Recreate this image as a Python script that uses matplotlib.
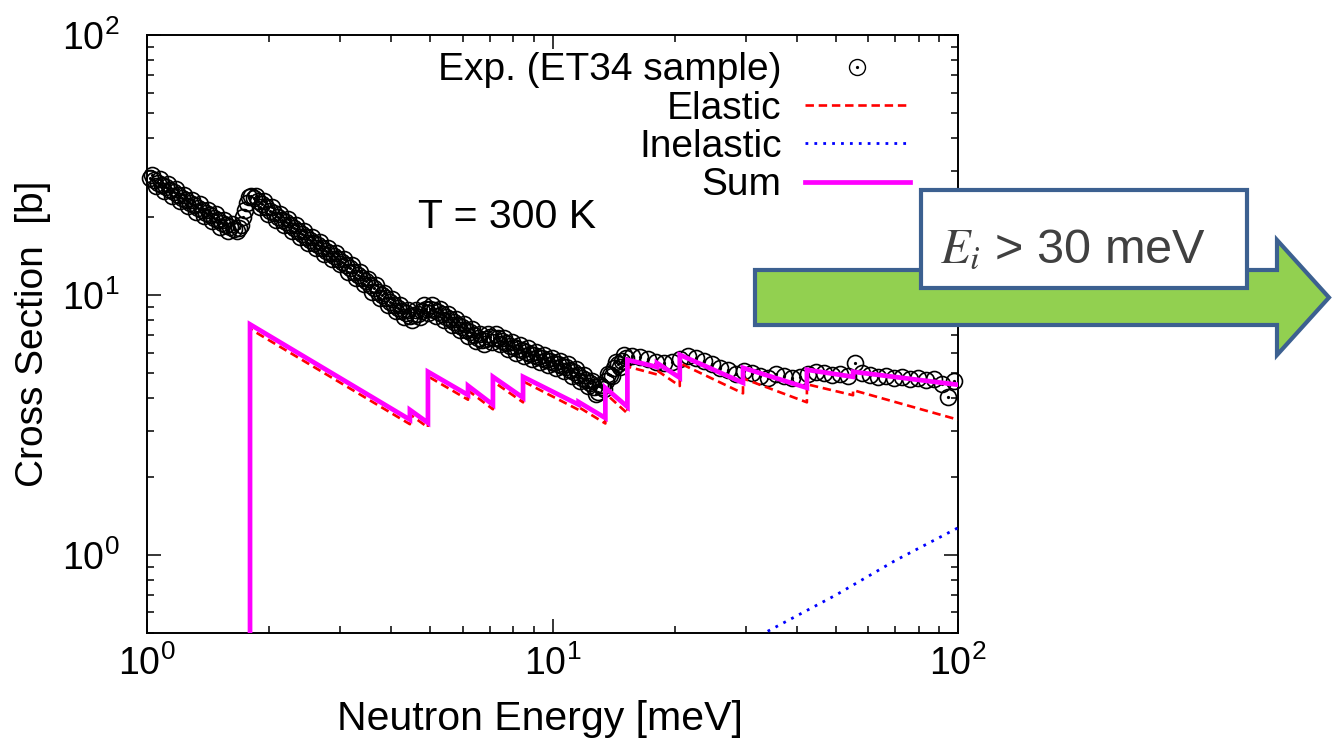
import numpy as np
import matplotlib
matplotlib.use('Agg')
import matplotlib.pyplot as plt
from matplotlib.patches import Polygon, Rectangle
from matplotlib.ticker import LogLocator, NullFormatter, FuncFormatter
from matplotlib.legend_handler import HandlerTuple

# ---------------- data ----------------
exp_energy = [
    1.017, 1.041, 1.064, 1.089, 1.114, 1.139, 1.166, 1.192, 1.220, 1.248,
    1.276, 1.306, 1.336, 1.366, 1.398, 1.430, 1.463, 1.496, 1.531, 1.566,
    1.602, 1.639, 1.667, 1.686, 1.705, 1.725, 1.745, 1.765, 1.784, 1.805,
    1.836, 1.878, 1.921, 1.966, 2.011, 2.057, 2.104, 2.152, 2.202, 2.252,
    2.304, 2.357, 2.411, 2.466, 2.523, 2.581, 2.641, 2.701, 2.764, 2.827,
    2.892, 2.958, 3.027, 3.096, 3.167, 3.240, 3.314, 3.390, 3.468, 3.548,
    3.629, 3.713, 3.798, 3.886, 3.975, 4.066, 4.159, 4.256, 4.352, 4.452,
    4.555, 4.660, 4.767, 4.875, 4.988, 5.103, 5.220, 5.340, 5.463, 5.588,
    5.717, 5.848, 5.982, 6.120, 6.260, 6.404, 6.551, 6.702, 6.855, 7.013,
    7.174, 7.339, 7.507, 7.680, 7.857, 8.037, 8.222, 8.410, 8.603, 8.801,
    9.003, 9.210, 9.421, 9.638, 9.859, 10.09, 10.32, 10.55, 10.80, 11.04,
    11.30, 11.56, 11.82, 12.09, 12.38, 12.66, 12.95, 13.25, 13.55, 13.86,
    14.18, 14.51, 14.84, 15.18,
    15.71, 16.44, 17.20, 17.99, 18.84, 19.71, 20.63, 21.59, 22.59, 23.64,
    24.74, 25.88, 27.09, 28.35, 29.67, 31.05, 32.49, 34.00, 35.58, 37.23,
    38.96, 40.77, 42.67, 44.65, 46.72, 48.90, 51.17, 53.55, 55.72, 57.98,
    60.67, 63.49, 66.44, 69.54, 72.77, 76.14, 79.69, 83.39, 87.27, 91.31,
    94.47, 97.74]
exp_sigma = [
    28.2, 27.6, 27.0, 26.4, 25.9, 25.3, 24.8, 24.2, 23.6, 23.1,
    22.6, 22.1, 21.6, 21.2, 20.7, 20.3, 19.8, 19.4, 18.9, 18.5,
    18.2, 17.9, 17.6, 18.1, 18.6, 19.9, 21.2, 22.6, 23.7, 24.1,
    23.5, 22.9, 22.3, 21.7, 21.1, 20.6, 20.0, 19.5, 19.0, 18.6,
    18.1, 17.6, 17.2, 16.7, 16.3, 15.9, 15.5, 15.2, 14.8, 14.5,
    14.1, 13.8, 13.4, 13.0, 12.7, 12.3, 11.9, 11.6, 11.3, 10.9,
    10.6, 10.3, 10.0, 9.71, 9.42, 9.15, 8.89, 8.66, 8.48, 8.30,
    8.38, 8.45, 8.68, 8.84, 8.84, 8.76, 8.56, 8.43, 8.24, 8.05,
    7.87, 7.69, 7.51, 7.34, 7.17, 7.01, 6.85, 6.69, 6.75, 6.89,
    6.85, 6.80, 6.65, 6.51, 6.37, 6.28, 6.19, 6.11, 6.02, 5.94,
    5.86, 5.78, 5.70, 5.62, 5.55, 5.48, 5.40, 5.33, 5.26, 5.15,
    5.03, 4.91, 4.80, 4.69, 4.59, 4.41, 4.24, 4.42, 4.66, 4.92,
    5.22, 5.43, 5.58, 5.74,
    5.83, 5.78, 5.67, 5.52, 5.48, 5.52, 5.67, 5.83, 5.73, 5.57,
    5.43, 5.24, 5.15, 4.97, 5.10, 5.01, 4.88, 4.80, 4.97, 4.88,
    4.80, 4.84, 4.97, 5.06, 5.01, 4.92, 4.97, 4.88, 5.48, 5.01,
    4.92, 4.84, 4.88, 4.80, 4.84, 4.75, 4.80, 4.71, 4.75, 4.55,
    4.05, 4.67]

# further (interleaved) experimental points of the dense low-energy band
exp_energy_dense = [
    1.029, 1.052, 1.076, 1.101, 1.126, 1.152, 1.179, 1.206, 1.234, 1.262,
    1.291, 1.321, 1.351, 1.382, 1.414, 1.446, 1.479, 1.513, 1.548, 1.584,
    1.620,
    1.857, 1.899, 1.943, 1.988, 2.034, 2.080, 2.128, 2.177, 2.227, 2.278,
    2.330, 2.384, 2.438, 2.494, 2.552, 2.611, 2.671, 2.732, 2.795, 2.859,
    2.925, 2.992, 3.061, 3.131, 3.203, 3.277, 3.352, 3.429, 3.508, 3.588,
    3.671, 3.755, 3.842, 3.930, 4.020, 4.112, 4.207, 4.304, 4.402, 4.503,
    4.607, 4.713, 4.821, 4.931, 5.045, 5.161, 5.280, 5.401, 5.525, 5.652,
    5.782, 5.915, 6.051, 6.190, 6.332, 6.477, 6.626, 6.778, 6.933, 7.093,
    7.256, 7.422, 7.593, 7.768, 7.946, 8.129, 8.315, 8.506, 8.701, 8.901,
    9.106, 9.315, 9.529, 9.748, 9.974, 10.20, 10.43, 10.67, 10.92, 11.17,
    11.43, 11.69, 11.95, 12.23, 12.52, 12.80, 13.10, 13.40, 13.70, 14.02,
    14.34, 14.67, 15.01]
exp_sigma_dense = [
    29.0, 26.2, 27.8, 25.1, 26.6, 24.0, 25.5, 22.9, 24.2, 21.9,
    23.2, 20.9, 22.3, 20.1, 21.3, 19.2, 20.4, 18.3, 19.4, 17.6,
    18.7,
    24.1, 21.7, 22.9, 20.5, 21.7, 19.5, 20.5, 18.5, 19.6, 17.6,
    18.6, 16.7, 17.6, 15.8, 16.7, 15.1, 16.0, 14.4, 15.2, 13.7,
    14.5, 13.1, 13.7, 12.3, 13.0, 11.6, 12.2, 11.0, 11.5, 10.3,
    10.9, 9.74, 10.2, 9.18, 9.65, 8.66, 9.12, 8.23, 8.73, 8.01,
    8.75, 8.22, 9.11, 8.49, 9.15, 8.31, 8.83, 8.00, 8.47, 7.64,
    8.09, 7.30, 7.72, 6.96, 7.37, 6.65, 7.04, 6.45, 7.09, 6.60,
    7.09, 6.45, 6.84, 6.18, 6.57, 5.98, 6.40, 5.82, 6.22, 5.66,
    6.05, 5.51, 5.89, 5.36, 5.73, 5.22, 5.57, 5.08, 5.41, 4.89,
    5.17, 4.66, 4.93, 4.45, 4.68, 4.15, 4.50, 4.36, 4.98, 4.87,
    5.53, 5.28, 5.89]

model_energy = [1.795, 1.795, 4.45, 4.45, 4.93, 4.93, 6.19, 6.19, 7.13, 7.13,
                8.46, 8.46, 11.6, 11.6, 13.5, 13.5, 15.3, 15.3, 18.1, 18.1,
                20.6, 20.6, 29.5, 29.5, 42.4, 42.4, 55.1, 55.1, 100.0]
sum_sigma = [0.3, 7.7, 3.31, 3.61, 3.22, 5.06, 4.12, 4.47, 3.78, 4.84,
             4.02, 4.84, 3.78, 3.87, 3.36, 4.39, 3.71, 5.62, 5.28, 5.47,
             4.80, 5.88, 4.59, 5.24, 4.39, 5.15, 4.84, 5.06, 4.51]
elastic_sigma = [0.3, 7.4, 3.18, 3.47, 3.09, 4.86, 3.95, 4.29, 3.63, 4.65,
                 3.86, 4.65, 3.61, 3.70, 3.20, 4.18, 3.50, 5.30, 4.94, 5.12,
                 4.46, 5.46, 4.18, 4.77, 3.86, 4.53, 4.11, 4.30, 3.31]

inel_energy = [20.0, 33.8, 50.0, 70.0, 100.0]
inel_sigma = [0.32, 0.506, 0.70, 0.95, 1.27]

legend_labels = ['Exp. (ET34 sample)', 'Elastic', 'Inelastic', 'Sum']

# ---------------- style ----------------
plt.rcParams['font.family'] = ['Liberation Sans', 'DejaVu Sans']
plt.rcParams['mathtext.fontset'] = 'custom'
plt.rcParams['mathtext.rm'] = 'Liberation Sans'
plt.rcParams['mathtext.it'] = 'Liberation Sans:italic'
plt.rcParams['mathtext.bf'] = 'Liberation Sans:bold'

W, H = 1333, 753
fig = plt.figure(figsize=(W / 100, H / 100), dpi=100)
ax = fig.add_axes([147 / W, 1 - 633 / H, (958 - 147) / W, (633 - 35) / H])
ax.set_xscale('log')
ax.set_yscale('log')

all_e = list(exp_energy) + list(exp_energy_dense)
all_s = list(exp_sigma) + list(exp_sigma_dense)

MS, MEW = 11.5, 1.2
ax.plot(all_e, all_s, linestyle='none', marker='o', ms=MS,
        mfc='none', mec='black', mew=MEW, clip_on=False, zorder=2)
ax.plot(all_e, all_s, linestyle='none', marker='o', ms=1.3,
        color='black', clip_on=False, zorder=2)
h_exp = ax.plot([], [], linestyle='none', marker='o', ms=MS, mfc='none',
                mec='black', mew=1.0)[0]
h_dot = ax.plot([], [], linestyle='none', marker='o', ms=1.3, color='black')[0]
h_el, = ax.plot(model_energy, elastic_sigma, color='#ff0000', lw=1.9,
                ls=(0, (3.2, 1.8)), zorder=3)
h_in, = ax.plot(inel_energy, inel_sigma, color='#0000ff', lw=2.0,
                ls=(0, (1, 2.2)), zorder=3)
h_sum, = ax.plot(model_energy, sum_sigma, color='#ff00ff', lw=3.4,
                 solid_joinstyle='miter', zorder=4)

ax.set_xlim(1, 100)
ax.set_ylim(0.5, 100)

fmt = FuncFormatter(lambda v, p: r'$10^{%d}$' % int(round(np.log10(v))))
for axis in (ax.xaxis, ax.yaxis):
    axis.set_major_locator(LogLocator(base=10, numticks=10))
    axis.set_minor_locator(LogLocator(base=10, subs=np.arange(2, 10), numticks=20))
    axis.set_major_formatter(fmt)
    axis.set_minor_formatter(NullFormatter())

ax.tick_params(which='both', direction='in', top=True, right=True,
               labelsize=27, width=1.1, colors='black')
ax.tick_params(which='major', length=10)
ax.tick_params(which='minor', length=5)
ax.tick_params(axis='x', which='major', pad=9)
ax.tick_params(axis='y', which='major', pad=20)
for s in ax.spines.values():
    s.set_linewidth(1.4)

ax.set_xlabel('Neutron Energy [meV]', fontsize=29.5)
ax.set_ylabel('Cross Section  [b]', fontsize=28)
ax.xaxis.set_label_coords(0.485, -0.112)
ax.yaxis.set_label_coords(-0.118, 0.5)

ax.text(0.334, 0.696, 'T = 300 K', transform=ax.transAxes, fontsize=29.5,
        ha='left', va='center')

leg = ax.legend([(h_exp, h_dot), h_el, h_in, h_sum], legend_labels,
                handler_map={tuple: HandlerTuple(ndivide=1)},
                loc='upper right', bbox_to_anchor=(0.9408, 0.971),
                frameon=False, markerfirst=False, fontsize=28,
                handlelength=2.7, handletextpad=0.6, labelspacing=0.06,
                borderpad=0, borderaxespad=0)
for col in leg._legend_handle_box.get_children():
    col.align = 'right'

# ---------------- arrow annotation ----------------
def f(x, y):
    return (x / W, 1 - y / H)

edge = '#3C6090'
arrow_pts = [f(755, 270), f(1277, 270), f(1277, 240), f(1329, 297.5),
             f(1277, 355), f(1277, 325), f(755, 325)]
fig.add_artist(Polygon(arrow_pts, closed=True, transform=fig.transFigure,
                       facecolor='#92D050', edgecolor=edge, lw=3.0,
                       joinstyle='miter', zorder=5))
bx0, by0 = f(921, 288)
bx1, by1 = f(1247, 190)
fig.add_artist(Rectangle((bx0, by0), bx1 - bx0, by1 - by0,
                         transform=fig.transFigure, facecolor='white',
                         edgecolor=edge, lw=3.0, zorder=6))
tx, ty = f(940, 250)
fig.text(tx, ty, r'$E_i$ > 30 meV', fontsize=35, color='#404040',
         ha='left', va='center', math_fontfamily='stix', zorder=7)

fig.savefig('out.png', dpi=100)
